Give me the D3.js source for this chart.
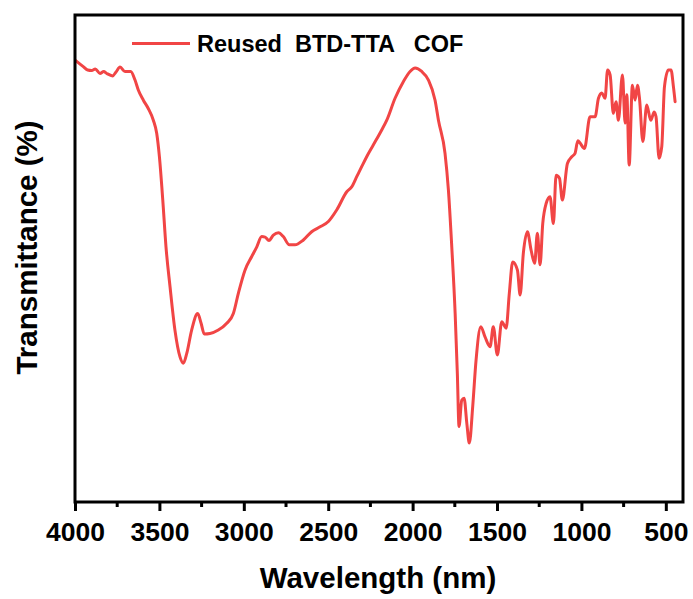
<!DOCTYPE html>
<html>
<head>
<meta charset="utf-8">
<script src="https://cdn.jsdelivr.net/npm/d3@7"></script>
<style>
  html, body { margin: 0; padding: 0; background: #fff; }
  svg { display: block; }
  text { font-family: "Liberation Sans", Arial, sans-serif; font-weight: bold; fill: #000; }
</style>
</head>
<body>
<svg id="chart" width="693" height="599"></svg>
<script>
// FT-IR spectrum of the reused BTD-TTA COF: wavenumber (cm-1) and transmittance (a.u.)
const wavenumbers = [
  3994, 3951, 3925, 3901, 3880, 3852, 3830, 3812, 3777, 3757, 3733, 3704, 3670,
  3645, 3625, 3595, 3566, 3536, 3516, 3500, 3480, 3461, 3437, 3408, 3378, 3358,
  3338, 3309, 3273, 3253, 3234, 3200, 3151, 3101, 3062, 3032, 2993, 2953, 2923,
  2894, 2874, 2851, 2825, 2795, 2766, 2730, 2697, 2647, 2598, 2548, 2499, 2449,
  2390, 2361, 2331, 2301, 2272, 2233, 2183, 2153, 2104, 2055, 2015, 1985, 1946,
  1907, 1867, 1847, 1808, 1788, 1768, 1748, 1735, 1725, 1709, 1695, 1679, 1664,
  1644, 1624, 1596, 1571, 1541, 1522, 1498, 1472, 1446, 1427, 1407, 1379, 1363,
  1344, 1320, 1298, 1277, 1261, 1245, 1229, 1209, 1186, 1166, 1150, 1130, 1113,
  1083, 1057, 1038, 1021, 1008, 982, 949, 919, 899, 879, 860, 845, 830, 811, 795,
  781, 757, 741, 731, 717, 698, 682, 668, 656, 636, 613, 589, 569, 558, 540, 524,
  508, 485, 469, 455, 445
];
const transmittance = [
  90.6, 89.4, 88.7, 88.6, 88.9, 88.0, 88.4, 88.0, 87.5, 88.3, 89.3, 88.4, 88.4,
  86.7, 84.6, 82.5, 80.8, 78.4, 75.7, 70.9, 62.0, 52.4, 44.2, 35.3, 29.8, 28.5,
  30.5, 35.3, 38.7, 36.7, 34.5, 34.6, 35.3, 36.7, 38.7, 42.9, 47.6, 50.4, 52.4,
  54.5, 54.4, 53.7, 54.8, 55.3, 54.5, 52.8, 52.8, 53.8, 55.5, 56.5, 57.6, 60.0,
  63.7, 64.7, 66.8, 68.9, 70.9, 73.3, 76.4, 78.4, 82.9, 86.3, 88.4, 89.1, 88.4,
  86.7, 82.5, 78.4, 71.6, 64.1, 52.4, 38.7, 26.4, 15.5, 20.9, 21.3, 16.2, 12.1,
  19.6, 29.2, 36.0, 33.9, 31.9, 36.0, 30.2, 37.0, 35.7, 42.9, 49.3, 47.6, 42.5,
  51.1, 55.5, 51.7, 49.0, 55.2, 48.7, 57.2, 61.3, 62.7, 57.2, 67.1, 66.5, 62.0,
  69.5, 70.9, 71.6, 74.2, 73.7, 72.6, 79.1, 79.1, 82.9, 84.0, 82.9, 88.7, 87.7,
  79.8, 82.2, 78.4, 87.7, 77.8, 83.6, 69.2, 85.6, 82.5, 85.6, 82.9, 74.0, 81.5,
  78.4, 80.1, 79.1, 70.6, 73.0, 85.3, 88.7, 88.7, 85.3, 82.2
];
const xTicks = [4000, 3500, 3000, 2500, 2000, 1500, 1000, 500];
const xMinorTicks = [3750, 3250, 2750, 2250, 1750, 1250, 750];
const seriesName = "Reused  BTD-TTA   COF";
const xTitle = "Wavelength (nm)";
const yTitle = "Transmittance (%)";

const spectrum = wavenumbers.map((w, i) => ({ w, t: transmittance[i] }));

const margin = { left: 75, right: 10, top: 15, bottom: 97 };
const W = 693, H = 599;
const x0 = margin.left, x1 = W - margin.right;
const y0 = H - margin.bottom, y1 = margin.top;

const x = d3.scaleLinear().domain([4000, 400]).range([x0, x1 - 0.3]);
const y = d3.scaleLinear().domain([0, 100]).range([y0, y1]);

const svg = d3.select("#chart");
const red = "#f14545";

// spectrum trace
const line = d3.line()
  .x(d => x(d.w))
  .y(d => y(d.t))
  .curve(d3.curveMonotoneX);

svg.append("path")
  .datum(spectrum)
  .attr("d", line)
  .attr("fill", "none")
  .attr("stroke", red)
  .attr("stroke-width", 3)
  .attr("stroke-linejoin", "round")
  .attr("stroke-linecap", "round");

// bottom axis with major and minor ticks
const axisG = svg.append("g").attr("transform", `translate(0,${y0})`);
axisG.call(d3.axisBottom(x).tickValues(xTicks).tickSize(9).tickPadding(11).tickFormat(d3.format("d")))
  .call(g => g.select(".domain").remove())
  .call(g => g.selectAll(".tick line").attr("stroke", "#000").attr("stroke-width", 3))
  .call(g => g.selectAll(".tick text")
    .attr("font-size", 26.5)
    .attr("font-family", "'Liberation Sans', Arial, sans-serif")
    .attr("font-weight", "bold")
    .attr("fill", "#000"));

axisG.selectAll(".minor")
  .data(xMinorTicks)
  .join("line")
  .attr("class", "minor")
  .attr("x1", d => x(d)).attr("x2", d => x(d))
  .attr("y1", 0).attr("y2", 5)
  .attr("stroke", "#000").attr("stroke-width", 3);

// frame
svg.append("rect")
  .attr("x", x0).attr("y", y1)
  .attr("width", x1 - x0).attr("height", y0 - y1)
  .attr("fill", "none")
  .attr("stroke", "#000")
  .attr("stroke-width", 3);

// axis titles
svg.append("text")
  .attr("x", (x0 + x1) / 2 - 1)
  .attr("y", 588)
  .attr("text-anchor", "middle")
  .attr("font-size", 29.5)
  .text(xTitle);

svg.append("text")
  .attr("transform", `translate(37,${247.5}) rotate(-90)`)
  .attr("text-anchor", "middle")
  .attr("font-size", 29.5)
  .text(yTitle);

// legend
svg.append("line")
  .attr("x1", 132).attr("x2", 190)
  .attr("y1", 43.5).attr("y2", 43.5)
  .attr("stroke", red).attr("stroke-width", 3);

svg.append("text")
  .attr("x", 197)
  .attr("y", 52)
  .attr("font-size", 23.5)
  .style("white-space", "pre")
  .text(seriesName);
</script>
</body>
</html>
